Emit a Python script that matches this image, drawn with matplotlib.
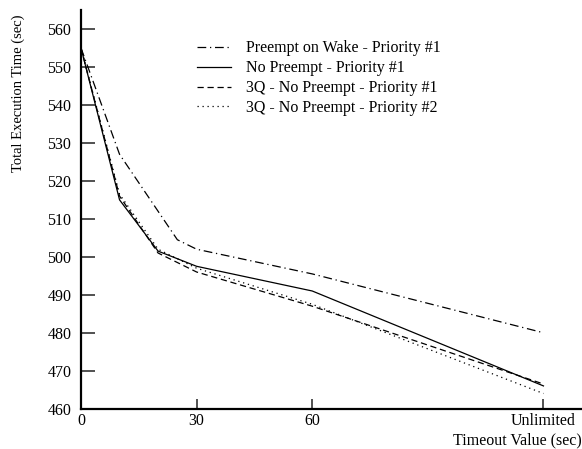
import matplotlib
matplotlib.use('Agg')
import matplotlib.pyplot as plt

# timeout values; "Unlimited" drawn at x=120
timeouts = [0, 10, 20, 30, 60, 120]
timeouts_wake = [0, 10, 25, 30, 60, 120]
xtick_pos = [0, 30, 60, 120]
xtick_labels = ['0', '30', '60', 'Unlimited']
yticks = [460, 470, 480, 490, 500, 510, 520, 530, 540, 550, 560]

preempt_wake = [555, 527, 504.5, 502, 495.5, 480]
no_preempt = [555, 515, 501.5, 497.5, 491, 466]
q3_prio1 = [555, 516, 501, 496, 487, 466.5]
q3_prio2 = [555, 516.5, 502, 497, 487.5, 464]

labels = ['Preempt on Wake - Priority #1', 'No Preempt - Priority #1',
          '3Q - No Preempt - Priority #1', '3Q - No Preempt - Priority #2']

plt.rcParams['font.family'] = ['Liberation Serif', 'DejaVu Serif']

fig = plt.figure(figsize=(5.82, 4.49), dpi=100)
ax = fig.add_axes([81/582, 40.3/449, 1 - 81/582, (408.7 - 10)/449])

lw = 0.9
ax.plot(timeouts_wake, preempt_wake, color='black', lw=lw, linestyle=(0, (7, 3, 1, 3)), label=labels[0])
ax.plot(timeouts, no_preempt, color='black', lw=lw, linestyle='-', label=labels[1])
ax.plot(timeouts, q3_prio1, color='black', lw=lw, linestyle=(0, (5, 3)), label=labels[2])
ax.plot(timeouts, q3_prio2, color='black', lw=lw, linestyle=(0, (1, 3)), label=labels[3])

ax.set_xlim(0, 130)
ax.set_ylim(460, 565)
ax.set_xticks(xtick_pos)
ax.set_xticklabels(xtick_labels)
ax.set_yticks(yticks)
ax.tick_params(axis='y', direction='in', length=10, width=1.2, labelsize=11.5, pad=7, colors='#333333', labelcolor='black')
ax.tick_params(axis='x', direction='in', length=7.5, width=1.2, labelsize=11.5, pad=3, colors='#333333', labelcolor='black')
for s in ['top', 'right']:
    ax.spines[s].set_visible(False)
for s in ['left', 'bottom']:
    ax.spines[s].set_linewidth(1.6)

fig.text(18/582, 1 - 14/449, 'Total Execution Time (sec)', rotation=90,
         ha='center', va='top', fontsize=10.5)
fig.text(1.0, 1 - 440/449, 'Timeout Value (sec)', ha='right', va='center', fontsize=11.5)

ax.legend(loc='upper left', bbox_to_anchor=(197/582, 1 - 40.5/449), bbox_transform=fig.transFigure,
          frameon=False, fontsize=11.5, handlelength=2.1, handletextpad=0.95,
          labelspacing=0.24, borderpad=0, borderaxespad=0)

fig.savefig('out.png', dpi=100)
